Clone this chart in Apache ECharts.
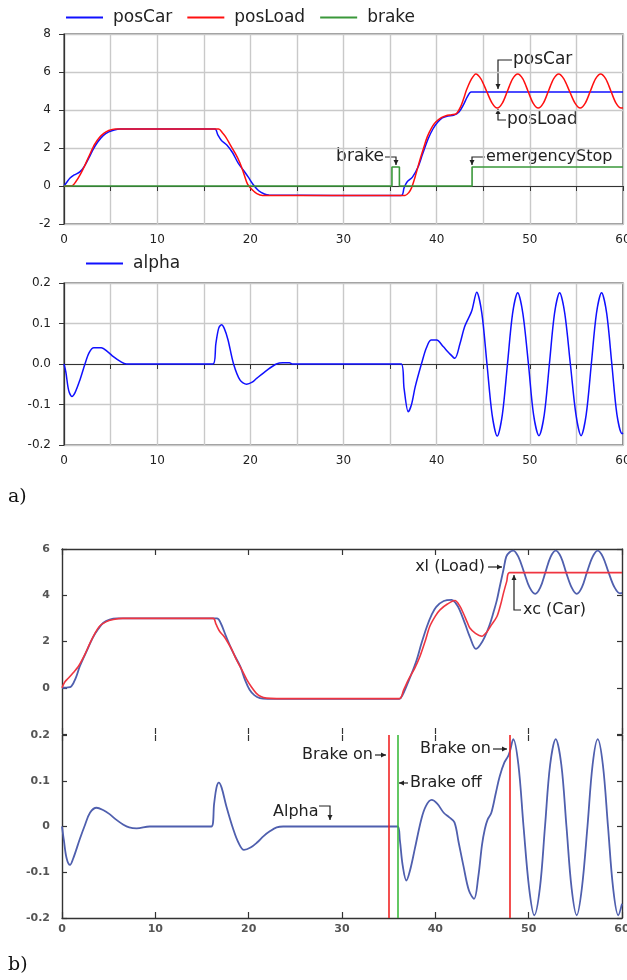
<!DOCTYPE html>
<html><head><meta charset="utf-8">
<script src="https://cdn.jsdelivr.net/npm/echarts@6/dist/echarts.min.js"></script>
<style>html,body{margin:0;padding:0;background:#fff}#c{width:627px;height:980px}</style>
</head><body><div id="c"></div>
<script>
// ---------- a) position chart ----------
const posCarA = [[0,0],[0.3,0.2],[0.65,0.42],[1.1,0.58],[1.7,0.74],[2.2,1.05],[2.7,1.5],[3.1,1.9],[3.6,2.3],[4.2,2.65],[4.8,2.85],[5.4,2.95],[6.0,3.0],[16.2,3.0],[16.5,2.7],[16.9,2.4],[17.5,2.15],[18.1,1.75],[18.7,1.2],[19.3,0.8],[19.8,0.45],[20.3,0.08],[20.9,-0.25],[21.5,-0.42],[22.0,-0.48],[36.2,-0.5],[36.5,-0.1],[36.8,0.2],[37.4,0.47],[38.0,1.0],[38.5,1.7],[39.1,2.5],[39.6,3.0],[40.1,3.35],[40.6,3.58],[41.2,3.68],[41.8,3.72],[42.4,3.9],[42.9,4.3],[43.3,4.7],[43.7,4.95],[60,4.95]];
const posLoadA = [[0,0],[0.8,0],[1.3,0.25],[1.8,0.65],[2.3,1.15],[2.8,1.7],[3.3,2.2],[3.8,2.55],[4.3,2.78],[4.8,2.92],[5.5,3.0],[16.6,3.0],[17.0,2.8],[17.4,2.55],[17.8,2.2],[18.4,1.7],[18.9,1.2],[19.3,0.65],[19.7,0.1],[20.2,-0.2],[20.7,-0.4],[21.3,-0.5],[36.6,-0.5],[37.0,-0.35],[37.3,-0.1],[37.7,0.5],[38.2,1.37],[38.6,2.0],[39.0,2.6],[39.5,3.1],[39.9,3.37],[40.5,3.6],[41.0,3.7],[41.6,3.75],[42.1,3.8],[42.6,4.2],[42.9,4.6],[43.2,5.05],[43.7,5.6],[44.2,5.9],[44.75,5.64],[45.35,5.0],[45.95,4.36],[46.5,4.1],[47.05,4.36],[47.6,5.0],[48.15,5.64],[48.7,5.9],[49.25,5.64],[49.8,5.0],[50.35,4.36],[50.9,4.1],[51.45,4.36],[52.0,5.0],[52.55,5.64],[53.1,5.9],[53.65,5.64],[54.25,5.0],[54.85,4.36],[55.4,4.1],[55.95,4.36],[56.5,5.0],[57.05,5.64],[57.6,5.9],[58.15,5.64],[58.7,5.0],[59.25,4.36],[59.8,4.1],[60,4.12]];
const brakeA = [[0,0],[35.2,0],[35.2,1],[36.0,1],[36.0,0],[43.8,0],[43.8,1],[60,1]];
// ---------- a) alpha chart ----------
const alphaA = [[0,0],[0.2,-0.02],[0.5,-0.065],[0.85,-0.08],[1.2,-0.07],[1.7,-0.04],[2.25,0.0],[2.7,0.028],[3.2,0.04],[4.0,0.04],[4.7,0.03],[5.3,0.018],[6.0,0.007],[6.7,0],[16.0,0],[16.3,0.05],[16.6,0.088],[16.9,0.097],[17.2,0.088],[17.6,0.06],[18.2,0.0],[18.9,-0.04],[19.6,-0.05],[20.2,-0.045],[20.7,-0.035],[21.8,-0.015],[22.8,0],[23.5,0.003],[24.2,0.003],[24.5,0],[36.2,0],[36.5,-0.06],[36.95,-0.118],[37.3,-0.1],[37.7,-0.056],[38.4,0.003],[38.9,0.04],[39.4,0.059],[40.0,0.059],[40.7,0.043],[41.3,0.028],[41.95,0.014],[42.5,0.05],[43.0,0.092],[43.75,0.13],[44.3,0.177],[44.85,0.125],[45.4,0],[45.95,-0.125],[46.5,-0.178],[47.05,-0.125],[47.6,0],[48.15,0.125],[48.7,0.176],[49.25,0.125],[49.85,0],[50.4,-0.125],[50.98,-0.177],[51.55,-0.125],[52.1,0],[52.65,0.125],[53.2,0.176],[53.75,0.125],[54.35,0],[54.95,-0.125],[55.5,-0.177],[56.05,-0.125],[56.6,0],[57.15,0.125],[57.7,0.176],[58.25,0.125],[58.8,0],[59.35,-0.125],[59.9,-0.172],[60,-0.17]];
// ---------- b) position chart ----------
const xcCarB = [[0,0],[0.3,0.25],[0.7,0.42],[1.2,0.65],[1.75,0.92],[2.4,1.4],[3.0,1.93],[3.5,2.33],[4.0,2.65],[4.7,2.85],[5.5,2.95],[6.5,3.0],[16.2,3.0],[16.5,2.75],[16.9,2.43],[17.3,2.25],[17.6,2.07],[18.2,1.65],[18.7,1.2],[19.3,0.75],[19.8,0.35],[20.3,0.03],[20.8,-0.23],[21.3,-0.38],[21.9,-0.45],[23,-0.47],[36.15,-0.47],[36.6,-0.1],[37.0,0.25],[37.3,0.49],[37.8,0.85],[38.35,1.35],[38.9,2.0],[39.4,2.65],[40.0,3.1],[40.5,3.37],[41.3,3.62],[42.1,3.77],[42.6,3.55],[43.0,3.22],[43.4,2.85],[43.7,2.58],[44.3,2.35],[45.0,2.23],[45.5,2.4],[45.9,2.65],[46.6,3.08],[47.0,3.6],[47.3,4.09],[47.65,4.6],[47.95,4.98],[60,4.98]];
const xlLoadB = [[0,0],[0.5,0.01],[1.0,0.06],[1.5,0.45],[1.9,0.92],[2.6,1.55],[3.35,2.2],[3.9,2.55],[4.4,2.8],[5.1,2.95],[5.9,3.0],[16.6,3.0],[17.0,2.8],[17.6,2.2],[18.3,1.55],[19.1,0.92],[19.6,0.35],[20.1,-0.09],[20.6,-0.32],[21.2,-0.45],[22,-0.48],[36.15,-0.48],[36.5,-0.3],[36.9,0.06],[37.4,0.55],[38.0,1.2],[38.5,1.9],[39.1,2.65],[39.6,3.15],[40.1,3.5],[40.9,3.75],[41.75,3.8],[42.2,3.65],[42.6,3.37],[43.2,2.75],[43.7,2.2],[44.35,1.68],[44.8,1.85],[45.3,2.2],[45.8,2.7],[46.2,3.22],[46.6,3.8],[46.9,4.37],[47.3,5.1],[47.6,5.67],[47.95,5.86],[48.35,5.93],[48.9,5.66],[49.5,5.0],[50.1,4.34],[50.7,4.06],[51.25,4.34],[51.8,5.0],[52.35,5.66],[52.9,5.93],[53.45,5.66],[54.0,5.0],[54.6,4.34],[55.15,4.06],[55.7,4.34],[56.25,5.0],[56.85,5.66],[57.4,5.93],[57.95,5.66],[58.55,5.0],[59.2,4.34],[59.8,4.08],[60,4.1]];
// ---------- b) alpha chart ----------
const alphaB = [[0,0],[0.2,-0.03],[0.5,-0.07],[0.86,-0.084],[1.2,-0.07],[1.9,-0.028],[2.4,0],[3.0,0.03],[3.7,0.041],[4.4,0.036],[5.1,0.027],[5.8,0.015],[6.5,0.005],[7.2,-0.002],[8.0,-0.004],[9.4,0],[16.0,0],[16.3,0.05],[16.55,0.085],[16.8,0.096],[17.1,0.085],[17.6,0.045],[18.35,-0.006],[18.9,-0.035],[19.5,-0.051],[20.2,-0.046],[20.9,-0.035],[21.6,-0.021],[22.3,-0.01],[23.0,-0.002],[23.7,0],[35.95,0],[36.2,-0.03],[36.5,-0.085],[36.9,-0.118],[37.3,-0.095],[37.8,-0.049],[38.5,0.016],[39.0,0.045],[39.6,0.058],[40.2,0.05],[40.9,0.030],[41.5,0.02],[42.05,0.009],[42.5,-0.035],[43.0,-0.085],[43.6,-0.14],[44.15,-0.158],[44.6,-0.11],[45.0,-0.04],[45.3,-0.006],[45.6,0.015],[46.0,0.03],[46.5,0.075],[46.9,0.11],[47.4,0.14],[47.8,0.154],[48.0,0.165],[48.35,0.191],[48.9,0.135],[49.45,0.0],[50.05,-0.135],[50.6,-0.194],[51.2,-0.135],[51.75,0.0],[52.3,0.135],[52.9,0.191],[53.5,0.135],[54.05,0.0],[54.6,-0.135],[55.15,-0.194],[55.7,-0.135],[56.3,0.0],[56.85,0.135],[57.4,0.191],[57.95,0.135],[58.5,0.0],[59.05,-0.135],[59.6,-0.194],[60,-0.169]];
const brakeEventsB = [35, 36, 48];
const brakeEventColors = ['#f02424', '#3dbb3d', '#f02424'];

const FONT = 'DejaVu Sans';
const chart = echarts.init(document.getElementById('c'), null, {renderer: 'canvas'});

const aLabel = {fontSize: 12, color: '#222', fontFamily: FONT};
const bLabel = {fontSize: 11, color: '#555', fontFamily: FONT, fontWeight: 'bold'};
const darkLine = {show: true, lineStyle: {color: '#333', width: 1.2}};
const gridSplit = {show: true, lineStyle: {color: '#c9c9c9', width: 1.4}};

function xA(gi) {
  return {gridIndex: gi, type: 'value', min: 0, max: 60, interval: 5,
    axisLine: darkLine, axisTick: {show: true, length: 5, lineStyle: {color: '#333'}},
    axisLabel: Object.assign({margin: 10, formatter: v => (v % 10 === 0 ? String(v) : '')}, aLabel),
    splitLine: gridSplit};
}
function xB(gi, pos, showLine, showLabel) {
  return {gridIndex: gi, type: 'value', position: pos, min: 0, max: 60, interval: 10,
    axisLine: {show: showLine, onZero: false, lineStyle: {color: '#333', width: 1.4}},
    axisTick: {show: true, inside: true, length: 6, lineStyle: {color: '#333', width: 1.2}},
    axisLabel: Object.assign({show: showLabel, margin: 6}, bLabel),
    splitLine: {show: false}};
}
function yB(gi, pos, min, max, iv, showLabel, fmt) {
  return {gridIndex: gi, type: 'value', position: pos, min: min, max: max, interval: iv,
    axisLine: {show: true, onZero: false, lineStyle: {color: '#333', width: 1.4}},
    axisTick: {show: true, inside: true, length: 5, lineStyle: {color: '#333', width: 1.2}},
    axisLabel: Object.assign({show: showLabel, margin: 12, formatter: fmt}, bLabel),
    splitLine: {show: false}};
}

// annotation helpers
const G = [];
function txt(x, y, s, size, align) {
  G.push({type: 'text', x: x, y: y, silent: true,
    style: {text: s, fill: '#222', font: size + 'px "' + FONT + '"', textAlign: align || 'left', textVerticalAlign: 'middle'}});
}
function head(x, y, dir) {
  const w = 2.5, l = 5; let pts;
  if (dir === 'down') pts = [[x - w, y - l], [x + w, y - l], [x, y]];
  if (dir === 'up') pts = [[x - w, y + l], [x + w, y + l], [x, y]];
  if (dir === 'right') pts = [[x - l, y - w], [x - l, y + w], [x, y]];
  if (dir === 'left') pts = [[x + l, y - w], [x + l, y + w], [x, y]];
  G.push({type: 'polygon', silent: true, shape: {points: pts}, style: {fill: '#222'}});
}
function pl(points, dir) {
  G.push({type: 'polyline', silent: true, shape: {points: points}, style: {stroke: '#222', lineWidth: 1.2, fill: null}});
  const p = points[points.length - 1];
  head(p[0], p[1], dir);
}
// a) annotations
txt(513, 60, 'posCar', 17); pl([[512, 60], [498, 60], [498, 89]], 'down');
txt(507, 120, 'posLoad', 17); pl([[506, 120], [498, 120], [498, 109]], 'up');
txt(384, 157, 'brake', 17, 'right'); pl([[385, 157], [396, 157], [396, 165]], 'down');
txt(486, 157, 'emergencyStop', 16); pl([[485, 157], [472, 157], [472, 165]], 'down');
// b) annotations
txt(485, 567, 'xl (Load)', 16, 'right'); pl([[488, 567], [502, 567]], 'right');
txt(523, 610, 'xc (Car)', 16); pl([[521, 610], [514, 610], [514, 575]], 'up');
txt(373, 755, 'Brake on', 16, 'right'); pl([[375, 755], [386, 755]], 'right');
txt(410, 783, 'Brake off', 16); pl([[408, 783], [399, 783]], 'left');
txt(491, 749, 'Brake on', 16, 'right'); pl([[493, 749], [507, 749]], 'right');
txt(273, 812, 'Alpha', 16); pl([[319, 806], [330, 806], [330, 820]], 'down');
// panel labels
G.push({type: 'text', x: 8, y: 497, silent: true, style: {text: 'a)', fill: '#111', font: '19px "DejaVu Serif"', textVerticalAlign: 'middle'}});
G.push({type: 'text', x: 8, y: 965, silent: true, style: {text: 'b)', fill: '#111', font: '19px "DejaVu Serif"', textVerticalAlign: 'middle'}});

const lineBase = {type: 'line', showSymbol: false, symbol: 'none', animation: false};

chart.setOption({
  animation: false,
  textStyle: {fontFamily: FONT},
  grid: [
    {left: 64, top: 34, width: 559, height: 190, show: true, borderColor: '#333', borderWidth: 1.2, outerBoundsMode: 'none', containLabel: false},
    {left: 64, top: 283, width: 559, height: 162, show: true, borderColor: '#333', borderWidth: 1.2, outerBoundsMode: 'none', containLabel: false},
    {left: 62, top: 549, width: 560, height: 185, outerBoundsMode: 'none', containLabel: false},
    {left: 62, top: 735, width: 560, height: 183, outerBoundsMode: 'none', containLabel: false}
  ],
  legend: [
    {left: 66, top: 9, padding: 0, itemWidth: 37, itemHeight: 2, itemGap: 15, icon: 'rect',
      data: ['posCar', 'posLoad', 'brake'],
      textStyle: {fontSize: 17, color: '#222', fontFamily: FONT, padding: [0, 0, 0, 5]}},
    {left: 86, top: 255, padding: 0, itemWidth: 37, itemHeight: 2, icon: 'rect', data: ['alpha'],
      textStyle: {fontSize: 17, color: '#222', fontFamily: FONT, padding: [0, 0, 0, 5]}}
  ],
  xAxis: [
    xA(0), xA(1),
    xB(2, 'bottom', false, false), xB(2, 'top', true, false),
    xB(3, 'bottom', true, true), xB(3, 'top', false, false)
  ],
  yAxis: [
    {gridIndex: 0, type: 'value', min: -2, max: 8, interval: 2,
      axisLine: darkLine, axisTick: {show: true, length: 5, lineStyle: {color: '#333'}},
      axisLabel: Object.assign({margin: 13}, aLabel), splitLine: gridSplit},
    {gridIndex: 1, type: 'value', min: -0.2, max: 0.2, interval: 0.1,
      axisLine: darkLine, axisTick: {show: true, length: 5, lineStyle: {color: '#333'}},
      axisLabel: Object.assign({margin: 13, formatter: v => v.toFixed(1)}, aLabel), splitLine: gridSplit},
    yB(2, 'left', -2, 6, 2, true, v => (v < -1 ? '' : String(v))),
    yB(2, 'right', -2, 6, 2, false),
    yB(3, 'left', -0.2, 0.2, 0.1, true, v => (Math.abs(v) < 1e-9 ? '0' : v.toFixed(1))),
    yB(3, 'right', -0.2, 0.2, 0.1, false)
  ],
  series: [
    Object.assign({}, lineBase, {name: 'posCar', xAxisIndex: 0, yAxisIndex: 0, data: posCarA, smooth: 0.3,
      color: '#1010ff', lineStyle: {color: '#1010ff', width: 1.5}}),
    Object.assign({}, lineBase, {name: 'posLoad', xAxisIndex: 0, yAxisIndex: 0, data: posLoadA, smooth: 0.3,
      color: '#ff1010', lineStyle: {color: '#ff1010', width: 1.5}}),
    Object.assign({}, lineBase, {name: 'brake', xAxisIndex: 0, yAxisIndex: 0, data: brakeA, smooth: false,
      color: '#3a983a', lineStyle: {color: '#3a983a', width: 1.6}}),
    Object.assign({}, lineBase, {name: 'alpha', xAxisIndex: 1, yAxisIndex: 1, data: alphaA, smooth: 0.3,
      color: '#1010ff', lineStyle: {color: '#1010ff', width: 1.5}}),
    Object.assign({}, lineBase, {name: 'xl (Load)', xAxisIndex: 2, yAxisIndex: 2, data: xlLoadB, smooth: 0.35,
      color: '#4f5fae', lineStyle: {color: '#4f5fae', width: 1.8}}),
    Object.assign({}, lineBase, {name: 'xc (Car)', xAxisIndex: 2, yAxisIndex: 2, data: xcCarB, smooth: 0.3,
      color: '#ef3540', lineStyle: {color: '#ef3540', width: 1.6}}),
    Object.assign({}, lineBase, {name: 'Alpha', xAxisIndex: 4, yAxisIndex: 4, data: alphaB, smooth: 0.35,
      color: '#4f5fae', lineStyle: {color: '#4f5fae', width: 1.8},
      markLine: {silent: true, symbol: ['none', 'none'], label: {show: false},
        data: brakeEventsB.map((x, i) => ({xAxis: x, lineStyle: {color: brakeEventColors[i], width: 1.6, type: 'solid'}}))}})
  ],
  graphic: G
});
</script></body></html>
